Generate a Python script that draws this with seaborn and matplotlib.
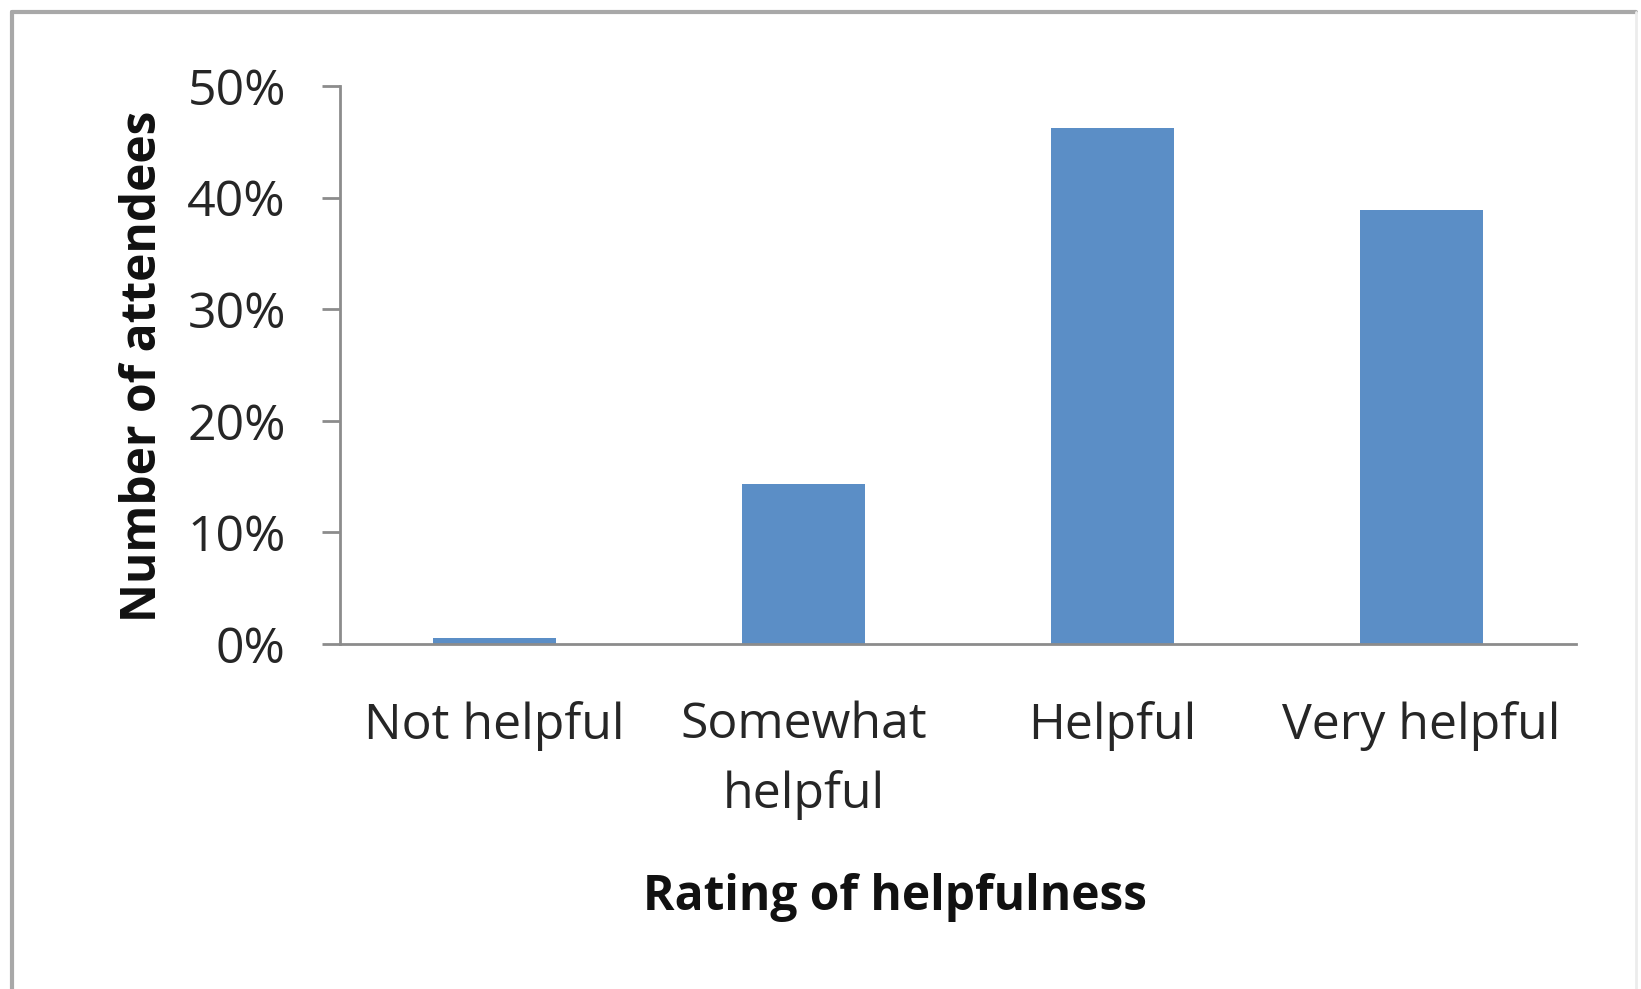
import matplotlib
matplotlib.use("Agg")
import matplotlib.pyplot as plt
import seaborn as sns
import pandas as pd
from matplotlib.ticker import PercentFormatter
from matplotlib.lines import Line2D

categories = ["Not helpful", "Somewhat helpful", "Helpful", "Very helpful"]
tick_labels = ["Not helpful", "Somewhat\nhelpful", "Helpful", "Very helpful"]
values = [0.5, 14.3, 46.2, 38.9]
y_ticks = [0, 10, 20, 30, 40, 50]

sns.set_theme(style="white")
plt.rcParams['font.family'] = ['Open Sans', 'DejaVu Sans']

fig = plt.figure(figsize=(16.41, 9.89), dpi=100)
ax = fig.add_axes([340/1641, 1-644/989, 1236/1641, 558/989])

df = pd.DataFrame({"cat": categories, "val": values})
sns.barplot(data=df, x="cat", y="val", color="#5B8EC6", width=0.4,
            saturation=1, ax=ax, edgecolor="none")

ax.set_xlim(-0.5, 3.5)
ax.set_ylim(0, 50)
ax.set_yticks(y_ticks)
ax.yaxis.set_major_formatter(PercentFormatter(decimals=0))
ax.set_xticks(range(len(categories)))
ax.set_xticklabels(tick_labels, fontsize=36, color="#262626", linespacing=1.52)

for s in ["top", "right"]:
    ax.spines[s].set_visible(False)
for s in ["left", "bottom"]:
    ax.spines[s].set_color("#8c8c8c")
    ax.spines[s].set_linewidth(2)

ax.tick_params(axis="y", direction="out", length=13, width=2, color="#8c8c8c",
               pad=26, labelsize=36, labelcolor="#262626", left=True)
ax.tick_params(axis="x", length=0, pad=41)

ax.set_xlabel("Rating of helpfulness", fontsize=34.5, fontweight="bold", color="#111111")
ax.set_ylabel("Number of attendees", fontsize=34.5, fontweight="bold", color="#111111")
ax.xaxis.set_label_coords(0.449, -0.41)
ax.yaxis.set_label_coords(-0.139, 0.498)

# outer frame
fc = "#a8a8a8"
fig.add_artist(Line2D([12/1641, 12/1641], [0, 1-12/989], transform=fig.transFigure, color=fc, lw=3))
fig.add_artist(Line2D([12/1641, 1636/1641], [1-12/989, 1-12/989], transform=fig.transFigure, color=fc, lw=3))
fig.add_artist(Line2D([1636/1641, 1636/1641], [0, 1-12/989], transform=fig.transFigure, color="#ececec", lw=2))

fig.savefig("out.png", dpi=100, facecolor="white")
